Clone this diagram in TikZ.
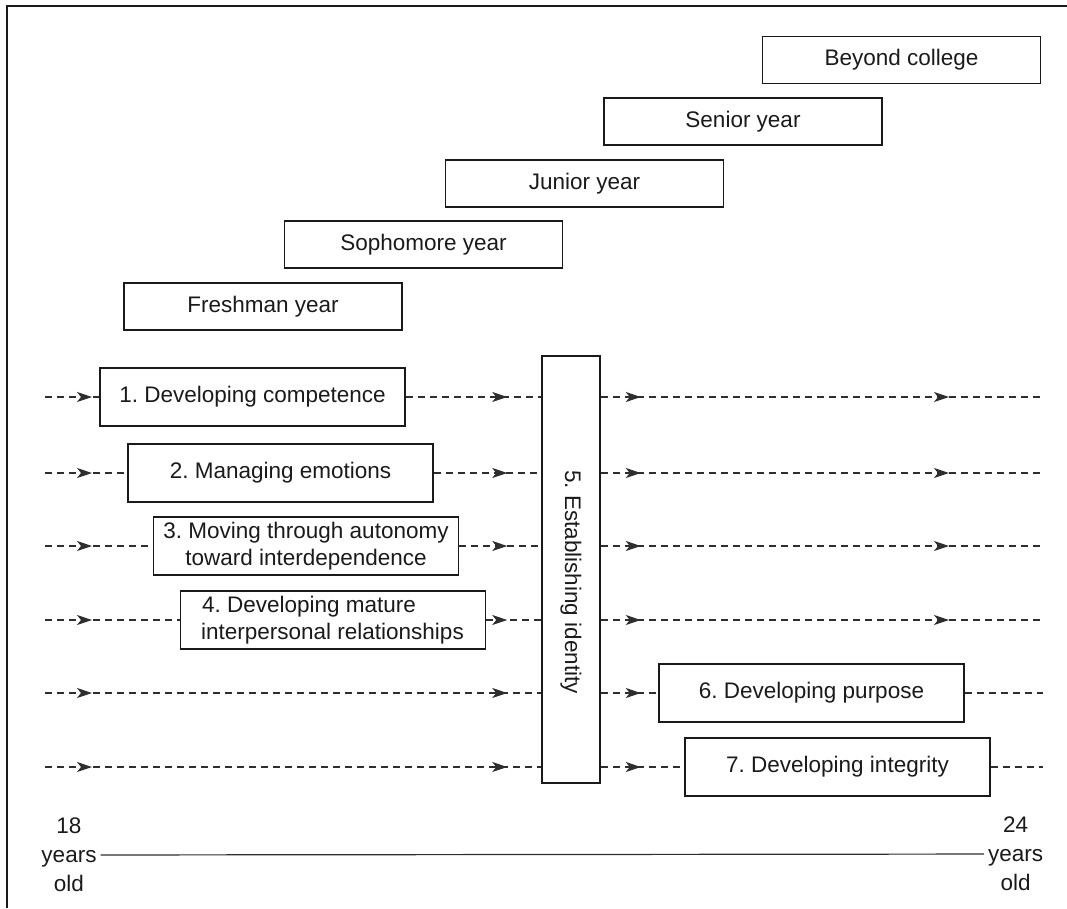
\documentclass[tikz,border=0pt]{standalone}
\usepackage{fontspec}
\setmainfont{Liberation Sans}
\usetikzlibrary{arrows.meta,decorations.markings}
\definecolor{ink}{HTML}{1A1A1A}
\definecolor{flowgray}{HTML}{2E2E2E}
\frenchspacing
\tikzset{
  lbl/.style={font=\fontsize{22.5}{27.5}\selectfont\frenchspacing, text=ink},
  yearbox/.style={lbl, draw=ink, line width=1.5pt, minimum width=278pt, minimum height=47pt, inner sep=0pt},
  stagebox/.style={lbl, draw=ink, line width=1.5pt, minimum width=305pt, minimum height=58pt, inner sep=0pt, align=center},
  flow/.style={draw=flowgray, line width=1.2pt, dash pattern=on 7pt off 5pt},
  arr/.style={postaction={decorate, decoration={markings, mark=at position #1 with {\arrow{Stealth[length=15pt,width=10pt,inset=4pt]}}}}},
  agelbl/.style={font=\fontsize{22.5}{29}\selectfont, text=ink, align=center, inner sep=4pt},
}
\begin{document}
\begin{tikzpicture}[x=1pt,y=-1pt]
\useasboundingbox (0,0) rectangle (1067,908);
% frame
\draw[line width=2pt, ink] (7,908) -- (7,6) -- (1067,6);

% year boxes
\node[yearbox] (fr) at (263,306.5) {Freshman year};
\node[yearbox] (so) at (423.5,244.5) {Sophomore year};
\node[yearbox] (ju) at (584.5,183.5) {Junior year};
\node[yearbox] (se) at (743,121.5) {Senior year};
\node[yearbox] (be) at (901.5,60) {Beyond college};

% stage boxes
\node[stagebox] (b1) at (252.5,397) {1. Developing competence};
\node[stagebox] (b2) at (280.5,473) {2. Managing emotions};
\node[stagebox] (b3) at (306,546) {3. Moving through autonomy\\toward interdependence};
\node[stagebox, align=left] (b4) at (333,620) {4. Developing mature\\\hspace*{-1pt}interpersonal relationships};
\node[stagebox] (b6) at (811.5,693) {6. Developing purpose};
\node[stagebox] (b7) at (837.5,767) {7. Developing integrity};
\node[lbl, draw=ink, line width=1.5pt, minimum width=58pt, minimum height=427pt, inner sep=0pt] (b5) at (571,569.5) {};
\node[lbl, rotate=-90] (t5) at (571,582) {5. Establishing identity};

% row coordinates
\coordinate (s1) at (45,397); \coordinate (e1) at (1043,397);
\coordinate (s2) at (45,473); \coordinate (e2) at (1043,473);
\coordinate (s3) at (45,546); \coordinate (e3) at (1043,546);
\coordinate (s4) at (45,620); \coordinate (e4) at (1043,620);
\coordinate (s5) at (45,693); \coordinate (e5) at (1043,693);
\coordinate (s6) at (45,767); \coordinate (e6) at (1043,767);

% rows 1-4
\foreach \i in {1,2,3,4}{
  \draw[flow, arr=47pt] (s\i) -- (b\i);
  \draw[flow, arr=-34pt] (b\i) -- (b5.west |- s\i);
  \draw[flow, arr=40pt, arr=-94pt] (b5.east |- s\i) -- (e\i);
}
% rows 5-6
\draw[flow, arr=47pt, arr=-34pt] (s5) -- (b5.west |- s5);
\draw[flow, arr=40pt] (b5.east |- s5) -- (b6);
\draw[flow] (b6) -- (e5);
\draw[flow, arr=47pt, arr=-34pt] (s6) -- (b5.west |- s6);
\draw[flow, arr=40pt] (b5.east |- s6) -- (b7);
\draw[flow] (b7) -- (e6);

% age axis
\node[agelbl] (l18) at (69,855) {18\\years\\old};
\node[agelbl] (l24) at (1015.5,854) {24\\years\\old};
\draw[line width=1.2pt, flowgray] (l18) -- (l24);
\end{tikzpicture}
\end{document}
